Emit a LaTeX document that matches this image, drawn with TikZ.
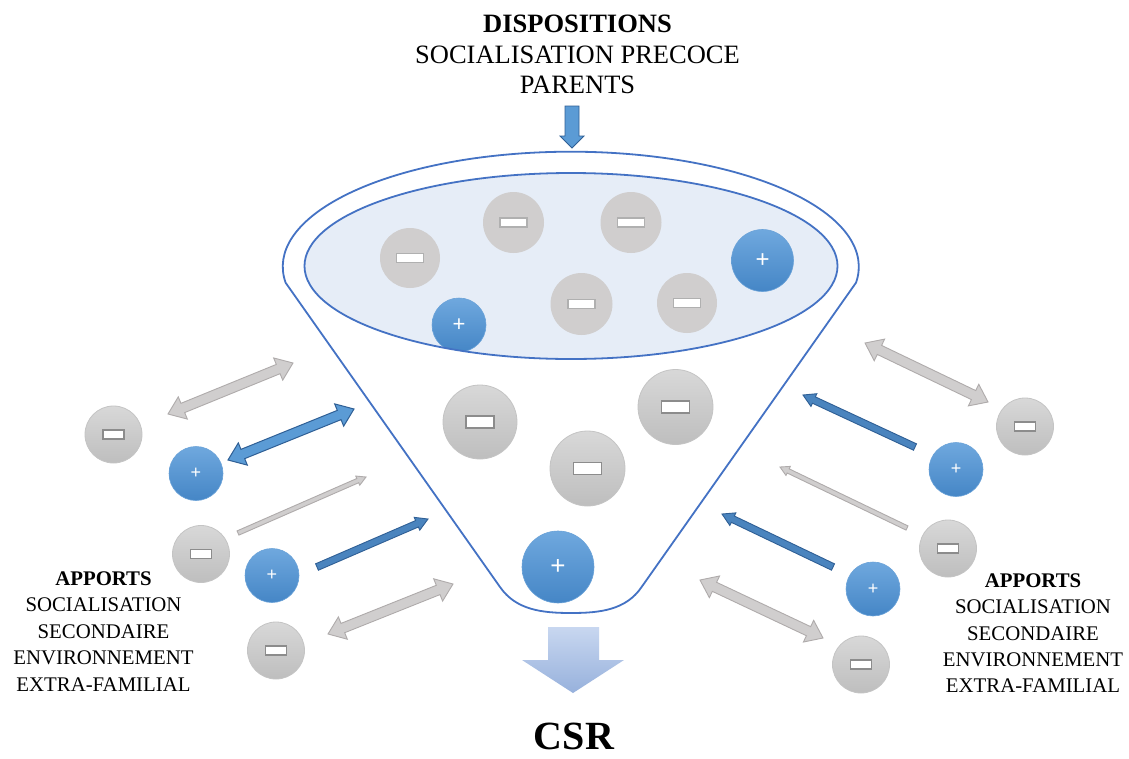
\documentclass[tikz,border=0pt]{standalone}
\usepackage{fontspec}
\setmainfont{Liberation Serif}
\setsansfont{Liberation Sans}
\definecolor{funblue}{HTML}{4472C4}
\definecolor{innerfill}{HTML}{E6EDF7}
\definecolor{mfill}{HTML}{D0CECE}
\definecolor{gtop}{HTML}{D8D8D8}
\definecolor{gbot}{HTML}{BEBEBE}
\definecolor{gedge}{HTML}{C4C4C4}
\definecolor{btop}{HTML}{6FA8DE}
\definecolor{bbot}{HTML}{4586C6}
\definecolor{bedge}{HTML}{6AA2D8}
\definecolor{barlight}{HTML}{B0B0B0}
\definecolor{bardark}{HTML}{8C8C8C}
\definecolor{agray}{HTML}{D0CECE}
\definecolor{agrayedge}{HTML}{AFABAB}
\definecolor{ablue}{HTML}{5B9BD5}
\definecolor{abluedark}{HTML}{4A84BE}
\definecolor{ablueedge}{HTML}{2F5F95}
\definecolor{csrtop}{HTML}{C8D7F0}
\definecolor{csrbot}{HTML}{97B1DC}
\newcommand\blockarr[9]{%
  \pgfmathsetmacro\baang{atan2(-((#4)-(#2)),(#3)-(#1))}%
  \pgfmathsetmacro\balen{veclen((#3)-(#1),(#4)-(#2))}%
  \begin{scope}[shift={(#1,#2)},rotate=\baang]
    \ifnum#9=2
      \filldraw[#8] (0,0) -- (#7,-#6) -- (#7,-#5) -- (\balen-#7,-#5) -- (\balen-#7,-#6) -- (\balen,0) -- (\balen-#7,#6) -- (\balen-#7,#5) -- (#7,#5) -- (#7,#6) -- cycle;
    \else
      \filldraw[#8] (0,-#5) -- (\balen-#7,-#5) -- (\balen-#7,-#6) -- (\balen,0) -- (\balen-#7,#6) -- (\balen-#7,#5) -- (0,#5) -- cycle;
    \fi
  \end{scope}}
\newcommand\mcir[8]{%
  \node[#5, minimum size=#4pt] (#1) at (#2,#3) {};
  \node[#8, minimum width=#6pt, minimum height=#7pt] (#1bar) at (#1.center) {};}
\newcommand\pcir[5]{%
  \node[pshade, minimum size=#4pt, font=\sffamily\fontsize{#5}{#5}\selectfont] (#1) at (#2,#3) {+};}
\begin{document}
\begin{tikzpicture}[x=1pt,y=-1pt,
  funnel/.style={draw=funblue, line width=1.8pt, line join=round},
  mflat/.style={circle, fill=mfill, inner sep=0pt},
  mshade/.style={circle, top color=gtop, bottom color=gbot, draw=gedge, line width=0.8pt, inner sep=0pt},
  pshade/.style={circle, top color=btop, bottom color=bbot, draw=bedge, line width=0.6pt, inner sep=0pt, text=white},
  barL/.style={rectangle, draw=barlight, fill=white, line width=1.2pt, inner sep=0pt},
  barD/.style={rectangle, draw=bardark, fill=white, line width=1.1pt, inner sep=0pt},
  garr/.style={fill=agray, draw=agrayedge, line width=0.9pt, line join=miter},
  barr/.style={fill=ablue, draw=ablueedge, line width=1pt, line join=miter},
  sbarr/.style={fill=abluedark, draw=ablueedge, line width=0.9pt, line join=miter},
  lbl/.style={anchor=base, inner sep=0pt, font=\fontsize{20.8}{24}\selectfont},
  ttl/.style={anchor=base, inner sep=0pt, font=\fontsize{26.5}{30}\selectfont}]
\useasboundingbox (0,0) rectangle (1129,758);
\fill[white] (0,0) rectangle (1129,758);

% funnel outline
\draw[funnel, fill=white] (285.6,282.7) arc[start angle=172, end angle=368, x radius=288, y radius=115]
  -- (641.6,587) .. controls (626,610) and (600,613) .. (571,613)
  .. controls (542,613) and (516,610) .. (500,587) -- cycle;

% left arrows
\blockarr{168}{414}{293}{363}{5}{12}{16}{garr}{2}
\blockarr{228}{460}{354}{409}{5}{12}{16}{barr}{2}
\blockarr{238}{533}{366}{477}{2.3}{5}{9}{garr}{1}
\blockarr{317}{567}{428}{519}{3.5}{7}{12}{sbarr}{1}
\blockarr{328}{634}{453}{584}{5}{12}{16}{garr}{2}
% right arrows
\blockarr{865}{343}{988}{402}{5}{12}{16}{garr}{2}
\blockarr{915}{447}{803}{395}{3.5}{7}{12}{sbarr}{1}
\blockarr{907}{528}{780}{467}{2.3}{5}{9}{garr}{1}
\blockarr{833}{567}{722}{514}{3.5}{7}{12}{sbarr}{1}
\blockarr{700}{580}{823}{638}{5}{12}{16}{garr}{2}

% circles in the funnel body
\mcir{m6}{480}{422}{74}{mshade}{28}{12}{barD}
\mcir{m7}{587.5}{468.5}{75}{mshade}{28}{12}{barD}
\mcir{m8}{675.5}{407}{75}{mshade}{28}{12}{barD}
\pcir{p3}{558}{567}{72}{26}

% inner ellipse
\fill[innerfill] (571,266) ellipse [x radius=266.5, y radius=93];
\begin{scope}
  \clip (571,266) ellipse [x radius=266.5, y radius=93];
  \mcir{m1}{410}{258}{60}{mflat}{27}{9}{barL}
  \mcir{m2}{513.5}{222.5}{61}{mflat}{27}{9}{barL}
  \mcir{m3}{631}{222.5}{61}{mflat}{27}{9}{barL}
  \mcir{m4}{581.5}{304}{62}{mflat}{27}{9}{barL}
  \mcir{m5}{687}{303}{60}{mflat}{27}{9}{barL}
  \pcir{p1}{762.5}{260.5}{62}{24}
  \pcir{p2}{459}{325}{54}{22}
\end{scope}
\draw[funnel] (571,266) ellipse [x radius=266.5, y radius=93];

% left circles
\mcir{m9}{113.5}{434.5}{57}{mshade}{21}{9}{barD}
\pcir{p4}{196}{473.5}{54}{18}
\mcir{m10}{201}{554}{57}{mshade}{21}{9}{barD}
\pcir{p5}{272}{575.5}{54}{18}
\mcir{m11}{276}{650.5}{57}{mshade}{21}{9}{barD}
% right circles
\mcir{m12}{1025}{426.5}{57}{mshade}{21}{9}{barD}
\pcir{p6}{956}{469.5}{54}{18}
\mcir{m13}{948}{548.5}{57}{mshade}{21}{9}{barD}
\pcir{p7}{873}{589}{54}{18}
\mcir{m14}{861}{664.5}{57}{mshade}{21}{9}{barD}

% top arrow
\filldraw[fill=ablue, draw=ablueedge, line width=0.8pt] (565,106) -- (579,106) -- (579,136) -- (584,136) -- (572,148) -- (560,136) -- (565,136) -- cycle;
% bottom arrow
\path[top color=csrtop, bottom color=csrbot] (548,627) -- (599,627) -- (599,660) -- (624,660) -- (573,693) -- (522,660) -- (548,660) -- cycle;

% texts
\node[ttl] (t1) at (577.5,32) {\textbf{DISPOSITIONS}};
\node[ttl] (t2) at (577.5,63) {SOCIALISATION PRECOCE};
\node[ttl] (t3) at (577.5,93) {PARENTS};

\node[lbl] (l1) at (103.5,585) {\textbf{APPORTS}};
\node[lbl] (l2) at (103.5,611.5) {SOCIALISATION};
\node[lbl] (l3) at (103.5,638) {SECONDAIRE};
\node[lbl] (l4) at (103.5,664.5) {ENVIRONNEMENT};
\node[lbl] (l5) at (103.5,691) {EXTRA-FAMILIAL};

\node[lbl] (r1) at (1033,587) {\textbf{APPORTS}};
\node[lbl] (r2) at (1033,613) {SOCIALISATION};
\node[lbl] (r3) at (1033,640) {SECONDAIRE};
\node[lbl] (r4) at (1033,666) {ENVIRONNEMENT};
\node[lbl] (r5) at (1033,692) {EXTRA-FAMILIAL};

\node[anchor=base, inner sep=0pt, font=\bfseries\fontsize{40}{44}\selectfont] (csr) at (574,749) {CSR};
\end{tikzpicture}
\end{document}
